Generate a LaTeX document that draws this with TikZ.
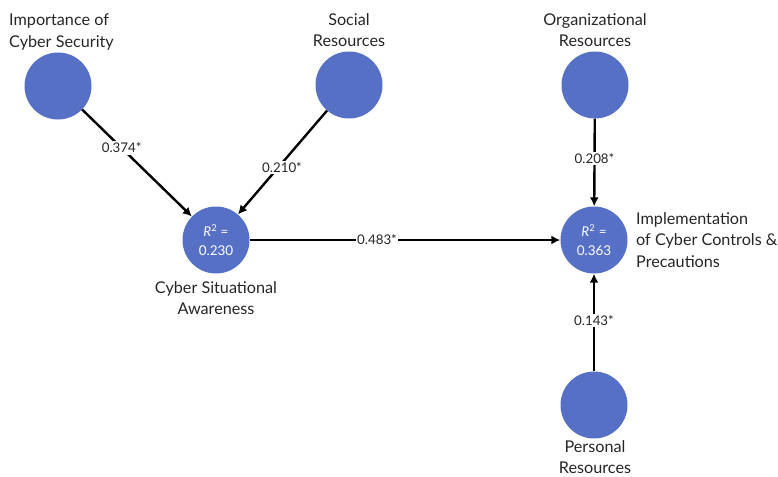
\documentclass[tikz,border=0pt]{standalone}
\usepackage{fontspec}
\setmainfont{Lato}
\usetikzlibrary{arrows.meta}
\definecolor{circblue}{HTML}{5570C4}
\tikzset{
  circ/.style={circle, fill=circblue, minimum size=67pt, inner sep=0pt, text=white, align=center, font=\fontsize{13.5}{19.5}\selectfont},
  lbl/.style={font=\fontsize{16.2}{21.5}\selectfont, text=black!85, inner sep=0pt},
  conn/.style={line width=2.4pt, -{Latex[length=9pt,width=9pt]}},
  wt/.style={fill=white, inner sep=1.5pt, font=\fontsize{13.3}{15}\selectfont, text=black!85}
}
\begin{document}
\begin{tikzpicture}[x=1pt,y=-1pt]
\useasboundingbox (0,0) rectangle (778,476);
\node[circ] (ics) at (58,86) {};
\node[circ] (soc) at (349,85) {};
\node[circ] (org) at (595,85) {};
\node[circ] (csa) at (216,240) {\textit{R}\textsuperscript{2} =\\0.230};
\node[circ] (imp) at (594,240) {\textit{R}\textsuperscript{2} =\\0.363};
\node[circ] (per) at (594,405) {};

\node[lbl, align=left, anchor=west] (ltics) at (9,32) {Importance of\\Cyber Security};
\node[lbl, align=center] (ltsoc) at (349,30) {Social\\Resources};
\node[lbl, align=center] (ltorg) at (595,30) {Organizational\\Resources};
\node[lbl, align=center] (ltcsa) at (216,298) {Cyber Situational\\Awareness};
\node[lbl, align=left, anchor=west] (ltimp) at (636,240) {Implementation\\of Cyber Controls \&\\Precautions};
\node[lbl, align=center] (ltper) at (595,457) {Personal\\Resources};

\draw[conn] (ics) -- node[wt, pos=0.36] {0.374*} (csa);
\draw[conn] (soc) -- node[wt, pos=0.55, xshift=4pt] {0.210*} (csa);
\draw[conn] (csa) -- node[wt, pos=0.41] {0.483*} (imp);
\draw[conn] (org) -- node[wt, pos=0.45] {0.208*} (imp);
\draw[conn] (per) -- node[wt, pos=0.52] {0.143*} (imp);
\end{tikzpicture}
\end{document}
